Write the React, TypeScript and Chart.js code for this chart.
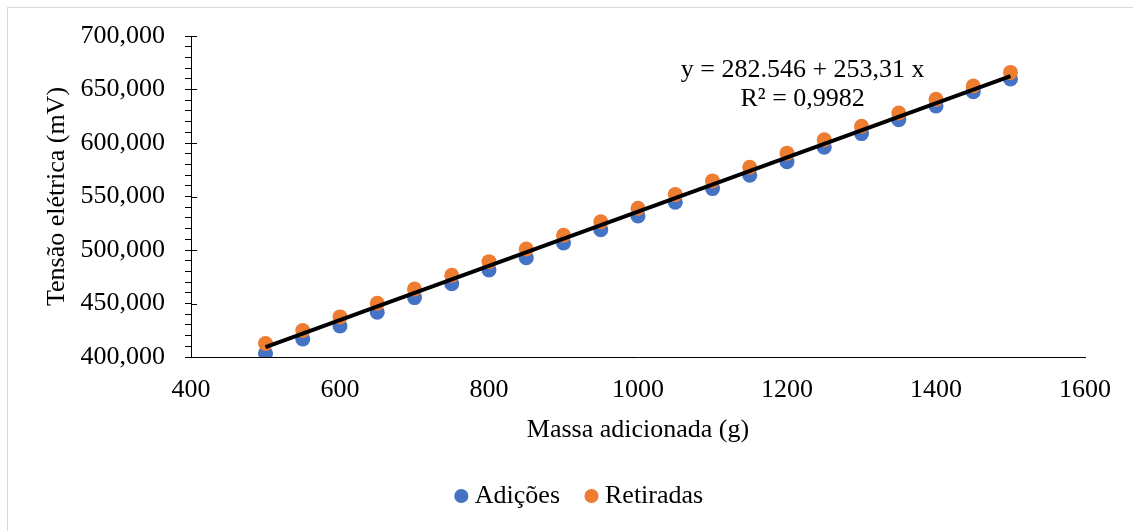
import React, { useEffect, useRef } from "react";
import { Chart, registerables } from "chart.js";

Chart.register(...registerables);

const massa = [500, 550, 600, 650, 700, 750, 800, 850, 900, 950, 1000, 1050, 1100, 1150, 1200, 1250, 1300, 1350, 1400, 1450, 1500];
const adicoes = [403.5, 416.8, 429.0, 441.8, 455.5, 468.5, 481.3, 492.8, 506.6, 518.9, 531.8, 544.6, 557.4, 569.8, 582.5, 596.0, 608.8, 621.8, 634.6, 648.0, 659.8];
const retiradas = [412.6, 424.8, 437.5, 450.2, 463.5, 476.3, 489.1, 500.9, 513.8, 526.4, 539.0, 551.8, 564.6, 577.4, 590.5, 603.0, 615.6, 628.0, 640.8, 653.3, 666.0];
const seriesNames = ["Adições", "Retiradas"];
const trendIntercept = 282.546;
const trendSlope = 253.31;
const equationLines = ["y = 282.546 + 253,31 x", "R² = 0,9982"];
const equationAnchor = { x: 1221, y: 668.5 };

const FONT = '"Liberation Serif", "Times New Roman", serif';

export default function App() {
  const ref = useRef<HTMLCanvasElement | null>(null);

  useEffect(() => {
    if (!ref.current) return;
    const xMin = Math.min(...massa);
    const xMax = Math.max(...massa);
    const trend = [
      { x: xMin, y: trendIntercept + (trendSlope * xMin) / 1000 },
      { x: xMax, y: trendIntercept + (trendSlope * xMax) / 1000 },
    ];

    const equationPlugin = {
      id: "equation",
      afterDatasetsDraw(chart: any) {
        const { ctx, scales } = chart;
        const px = scales.x.getPixelForValue(equationAnchor.x);
        const py = scales.y.getPixelForValue(equationAnchor.y);
        ctx.save();
        ctx.font = `26px ${FONT}`;
        ctx.fillStyle = "#000";
        ctx.textAlign = "center";
        ctx.textBaseline = "middle";
        equationLines.forEach((t, i) => ctx.fillText(t, px, py + i * 29));
        ctx.restore();
      },
    };

    const majorTickPlugin = {
      id: "majorTicks",
      afterDraw(chart: any) {
        const { ctx, scales } = chart;
        const y = scales.y;
        ctx.save();
        ctx.strokeStyle = "#000";
        ctx.lineWidth = 1;
        y.ticks.forEach((t: any) => {
          if (Math.round(t.value) % 50 === 0) {
            const p = Math.round(y.getPixelForValue(t.value)) + 0.5;
            ctx.beginPath();
            ctx.moveTo(y.right, p);
            ctx.lineTo(y.right + 6, p);
            ctx.stroke();
          }
        });
        ctx.restore();
      },
    };

    const chart = new Chart(ref.current, {
      type: "scatter",
      data: {
        datasets: [
          {
            label: "trend",
            type: "line",
            data: trend,
            borderColor: "#000",
            borderWidth: 4,
            pointRadius: 0,
            fill: false,
            order: 0,
          } as any,
          {
            label: seriesNames[1],
            data: massa.map((x, i) => ({ x, y: retiradas[i] })),
            backgroundColor: "#ED7D31",
            borderColor: "#ED7D31",
            borderWidth: 0,
            pointRadius: 7.5,
            pointStyle: "circle",
            order: 1,
          },
          {
            label: seriesNames[0],
            data: massa.map((x, i) => ({ x, y: adicoes[i] })),
            backgroundColor: "#4472C4",
            borderColor: "#4472C4",
            borderWidth: 0,
            pointRadius: 7.5,
            pointStyle: "circle",
            order: 2,
          },
        ],
      },
      options: {
        animation: false,
        responsive: true,
        maintainAspectRatio: false,
        layout: { padding: { left: 31, top: 36, right: 0, bottom: 12 } },
        plugins: {
          tooltip: { enabled: false },
          legend: {
            position: "bottom",
            labels: {
              filter: (item: any) => item.text !== "trend",
              sort: (a: any, b: any) => b.datasetIndex - a.datasetIndex,
              usePointStyle: true,
              pointStyle: "circle",
              boxWidth: 1,
              boxHeight: 10,
              padding: 31,
              color: "#000",
              font: { family: FONT, size: 26 },
            },
          },
        },
        scales: {
          x: {
            type: "linear",
            min: 400,
            max: 1600,
            afterFit: (s: any) => {
              s.height = 95;
            },
            ticks: {
              stepSize: 200,
              color: "#000",
              padding: 18,
              maxRotation: 0,
              font: { family: FONT, size: 26 },
              callback: (v: any) => String(v),
            },
            grid: { display: false, drawTicks: false },
            border: { display: true, color: "#000", width: 1 },
            title: {
              display: true,
              text: "Massa adicionada (g)",
              color: "#000",
              font: { family: FONT, size: 26 },
              padding: { top: 0, bottom: 6 },
            },
          },
          y: {
            type: "linear",
            min: 400,
            max: 700,
            afterFit: (s: any) => {
              s.width = 160;
            },
            ticks: {
              stepSize: 10,
              autoSkip: false,
              color: "#000",
              padding: 20,
              font: { family: FONT, size: 26 },
              callback: (v: any) => {
                const n = Number(v);
                return Math.round(n) % 50 === 0 ? n.toFixed(3).replace(".", ",") : "";
              },
            },
            grid: {
              display: true,
              drawOnChartArea: false,
              drawTicks: true,
              tickLength: 6,
              tickColor: "#000",
              tickWidth: 1,
            },
            border: { display: true, color: "#000", width: 1 },
            title: {
              display: true,
              text: "Tensão elétrica (mV)",
              color: "#000",
              font: { family: FONT, size: 26 },
              padding: { top: 11, bottom: 0 },
            },
          },
          yRight: {
            type: "linear",
            position: "right",
            display: true,
            afterFit: (s: any) => {
              s.width = 48;
            },
            ticks: { display: false },
            grid: { display: false, drawTicks: false },
            border: { display: false },
          },
        },
      },
      plugins: [equationPlugin, majorTickPlugin],
    });
    return () => chart.destroy();
  }, []);

  return (
    <div style={{ position: "absolute", left: 0, top: 0, width: 1133, height: 531, background: "#fff", overflow: "hidden" }}>
      <div
        style={{
          position: "absolute",
          left: 7,
          top: 7,
          width: 1126,
          height: 524,
          borderTop: "1px solid #d9d9d9",
          borderLeft: "1px solid #d9d9d9",
          boxSizing: "border-box",
        }}
      />
      <canvas ref={ref} style={{ position: "absolute", left: 0, top: 0, width: 1133, height: 531 }} />
    </div>
  );
}
